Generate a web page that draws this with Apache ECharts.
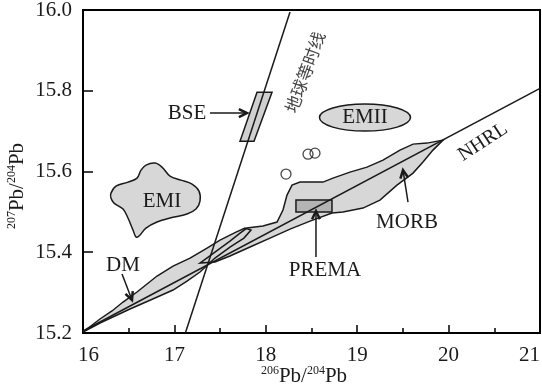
<!DOCTYPE html>
<html><head><meta charset="utf-8">
<script src="https://cdn.jsdelivr.net/npm/echarts@6/dist/echarts.min.js"></script>
<style>html,body{margin:0;padding:0;background:#fff}#c{width:542px;height:386px}</style>
</head><body><div id="c"></div>
<script>
// ---- data ----
const xRange = [16, 21];
const yRange = [15.2, 16.0];
const xName = ['206', 'Pb/', '204', 'Pb'];
const yName = ['207', 'Pb/', '204', 'Pb'];
const nhrlLine = [[16, 15.205], [21, 15.806]];
const geochronLine = [[17.12, 15.2], [18.265, 15.995]];
const emiField = [[16.306,15.5465],[16.361,15.5639],[16.492,15.5738],[16.591,15.5837],[16.635,15.6035],[16.689,15.6158],[16.788,15.6208],[16.864,15.6109],[16.952,15.5886],[17.072,15.5787],[17.193,15.5688],[17.269,15.5515],[17.280,15.5267],[17.236,15.5069],[17.138,15.4946],[16.952,15.4847],[16.810,15.4748],[16.689,15.4599],[16.613,15.4401],[16.580,15.4376],[16.547,15.4550],[16.492,15.4847],[16.438,15.5069],[16.339,15.5218],[16.306,15.5342]];
const dmField = [[16.000,15.2025],[16.186,15.2347],[16.317,15.2545],[16.438,15.2767],[16.591,15.3015],[16.810,15.3411],[16.985,15.3658],[17.171,15.3856],[17.357,15.4104],[17.499,15.4302],[17.674,15.4500],[17.772,15.4599],[17.838,15.4550],[17.761,15.4351],[17.608,15.4129],[17.444,15.3856],[17.280,15.3510],[17.138,15.3287],[16.985,15.3064],[16.788,15.2866],[16.514,15.2594],[16.186,15.2248]];
const morbField = [[17.280,15.3733],[17.444,15.4005],[17.608,15.4277],[17.718,15.4475],[17.794,15.4599],[17.969,15.4649],[18.123,15.4748],[18.188,15.5045],[18.232,15.5416],[18.287,15.5663],[18.374,15.5738],[18.626,15.5738],[18.735,15.5837],[18.921,15.5985],[19.107,15.6109],[19.282,15.6282],[19.468,15.6530],[19.611,15.6678],[19.764,15.6703],[19.939,15.6777],[19.829,15.6530],[19.720,15.6233],[19.611,15.5960],[19.435,15.5663],[19.249,15.5292],[19.063,15.5094],[18.845,15.4995],[18.724,15.4970],[18.484,15.4772],[18.265,15.4574],[18.046,15.4351],[17.827,15.4129],[17.608,15.3906],[17.444,15.3757]];
const emiiCenter = [19.085, 15.7335];
const emiiRadius = [0.498, 0.0334];
const bseBox = [[17.904,15.7965],[18.068,15.7965],[17.871,15.675],[17.718,15.675]];
const premaBox = [[18.330,15.5292],[18.724,15.5292],[18.724,15.4995],[18.330,15.4995]];
const smallCircles = [[18.221,15.5936],[18.462,15.643],[18.538,15.6455]];
const labelNames = ['BSE','EMII','EMI','DM','PREMA','MORB','NHRL','地球等时线'];
const labelAnchors = [[17.138,15.7446],[19.085,15.7347],[16.864,15.5267],[16.438,15.3683],[18.648,15.356],[19.545,15.4748],[20.376,15.6728],[18.429,15.846]];
const arrowFrom = [[17.389,15.7446],[16.427,15.346],[18.549,15.388],[19.556,15.5243]];
const arrowTo   = [[17.794,15.7446],[16.536,15.2817],[18.549,15.502],[19.501,15.6035]];

// ---- styles ----
const SERIF = 'Liberation Serif, Times New Roman, serif';
const INK = '#1a1a1a';
const labelRot = [0,0,0,0,0,0,33,70];
const labelFont = [21,21,21,21,21,21,20,17];
const nameRich = { s:{ fontFamily:SERIF, fontSize:12, fill:INK, verticalAlign:'top', lineHeight:22 },
                   b:{ fontFamily:SERIF, fontSize:21, fill:INK, lineHeight:22 } };
const richName = parts => '{s|' + parts[0] + '}{b|' + parts[1] + '}{s|' + parts[2] + '}{b|' + parts[3] + '}';

function fillSeries(points, fill, z, smooth) {
  return { type:'custom', coordinateSystem:'cartesian2d', z:z, silent:true, data:[points[0]],
    renderItem:(p, api) => ({ type:'polygon', shape:{ points: points.map(q => api.coord(q)), smooth: smooth||0 },
      style:{ fill: fill, stroke: null } }) };
}
function strokeSeries(points, z, smooth) {
  return { type:'custom', coordinateSystem:'cartesian2d', z:z, silent:true, data:[points[0]],
    renderItem:(p, api) => ({ type:'polygon', shape:{ points: points.map(q => api.coord(q)), smooth: smooth||0 },
      style:{ fill: null, stroke: INK, lineWidth: 1.5 } }) };
}

const chart = echarts.init(document.getElementById('c'), null, {renderer:'canvas'});
chart.setOption({
  animation:false,
  backgroundColor:'#fff',
  grid:{ left:83, right:2, top:10, bottom:53, containLabel:false, outerBoundsMode:'none',
    show:true, borderColor:'#000', borderWidth:2, backgroundColor:'transparent' },
  graphic:[
    { type:'text', x:304, y:376, style:{ text: richName(xName), rich: nameRich, align:'center', verticalAlign:'middle' } },
    { type:'text', x:17, y:186, rotation: Math.PI/2, style:{ text: richName(yName), rich: nameRich, align:'center', verticalAlign:'middle' } }
  ],
  xAxis:{ type:'value', min:xRange[0], max:xRange[1], interval:1,
    axisLine:{ lineStyle:{ color:'#000', width:2 } },
    axisTick:{ inside:true, length:8, lineStyle:{ color:'#000', width:1.5 } },
    minorTick:{ show:true, splitNumber:2, length:5, lineStyle:{ color:'#000', width:1.5 } },
    splitLine:{ show:false },
    axisLabel:{ fontFamily:SERIF, fontSize:21, color:INK, margin:12, alignMaxLabel:'right',
      formatter: v => v === xRange[0] ? '{first|' + v + '}' : String(v),
      rich:{ first:{ fontFamily:SERIF, fontSize:21, color:INK, padding:[0,0,0,11] } } }
  },
  yAxis:{ type:'value', min:yRange[0], max:yRange[1], interval:0.2,
    axisLine:{ lineStyle:{ color:'#000', width:2 } },
    axisTick:{ inside:true, length:10, lineStyle:{ color:'#000', width:1.5 } },
    splitLine:{ show:false },
    axisLabel:{ fontFamily:SERIF, fontSize:21, color:INK, margin:11, formatter:v => v.toFixed(1) }
  },
  series:[
    fillSeries(morbField, '#d7d7d7', 1),
    fillSeries(dmField, '#d7d7d7', 1),
    fillSeries(emiField, '#d7d7d7', 1, 0.35),
    strokeSeries(morbField, 2),
    strokeSeries(dmField, 2),
    strokeSeries(emiField, 2, 0.35),
    { type:'custom', coordinateSystem:'cartesian2d', z:2, silent:true, data:[emiiCenter],
      renderItem:(p, api) => { const c = api.coord(emiiCenter); const s = api.size(emiiRadius);
        return { type:'ellipse', shape:{ cx:c[0], cy:c[1], rx:s[0], ry:s[1] }, style:{ fill:'#d7d7d7', stroke:INK, lineWidth:1.5 } }; } },
    { type:'custom', coordinateSystem:'cartesian2d', z:3, silent:true, data:[bseBox[0]],
      renderItem:(p, api) => ({ type:'polygon', shape:{ points: bseBox.map(q => api.coord(q)) }, style:{ fill:'#d0d0d0', stroke:INK, lineWidth:1.5 } }) },
    { type:'custom', coordinateSystem:'cartesian2d', z:3, silent:true, data:[premaBox[0]],
      renderItem:(p, api) => ({ type:'polygon', shape:{ points: premaBox.map(q => api.coord(q)) }, style:{ fill:'#b4b4b4', stroke:INK, lineWidth:1.5 } }) },
    { type:'line', z:4, data:nhrlLine, symbol:'none', lineStyle:{ color:INK, width:1.5 }, silent:true },
    { type:'line', z:4, data:geochronLine, symbol:'none', lineStyle:{ color:INK, width:1.5 }, silent:true },
    { type:'scatter', z:5, data:smallCircles, symbol:'circle', symbolSize:10, itemStyle:{ color:'rgba(0,0,0,0)', borderColor:INK, borderWidth:1.3 }, silent:true },
    { type:'custom', coordinateSystem:'cartesian2d', z:6, silent:true, data:arrowTo,
      renderItem:(p, api) => { const i = p.dataIndex; const a = api.coord(arrowFrom[i]), b = api.coord(arrowTo[i]);
        const ang = Math.atan2(b[1]-a[1], b[0]-a[0]); const L = 9, w = 0.45;
        const h1 = [b[0]-L*Math.cos(ang-w), b[1]-L*Math.sin(ang-w)];
        const h2 = [b[0]-L*Math.cos(ang+w), b[1]-L*Math.sin(ang+w)];
        return { type:'group', children:[
          { type:'line', shape:{ x1:a[0], y1:a[1], x2:b[0], y2:b[1] }, style:{ stroke:INK, lineWidth:1.5 } },
          { type:'polyline', shape:{ points:[h1, b, h2] }, style:{ stroke:INK, lineWidth:2.5, fill:null } } ] }; } },
    { type:'custom', coordinateSystem:'cartesian2d', z:7, silent:true, data:labelAnchors,
      renderItem:(p, api) => { const i = p.dataIndex; const c = api.coord(labelAnchors[i]);
        const cjk = /[\u4e00-\u9fff]/.test(labelNames[i]);
        return { type:'text', x:c[0], y:c[1], rotation: labelRot[i]*Math.PI/180,
          style:{ text: labelNames[i], fontSize: labelFont[i], fontFamily: cjk ? 'Noto Sans CJK SC' : SERIF,
            fill: cjk ? '#444' : INK, align:'center', verticalAlign:'middle' } }; } }
  ]
});
</script></body></html>
